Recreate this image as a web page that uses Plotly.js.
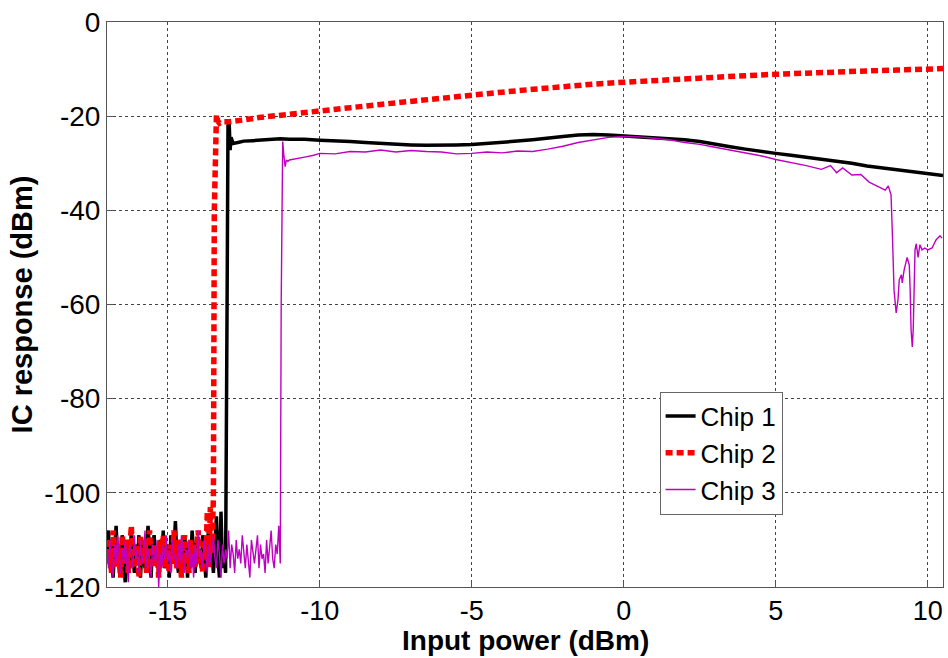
<!DOCTYPE html>
<html>
<head>
<meta charset="utf-8">
<script src="https://cdn.plot.ly/plotly-3.0.1.min.js"></script>
<style>html,body{margin:0;padding:0;background:#fff;}#chart{width:948px;height:658px;}</style>
</head>
<body>
<div id="chart"></div>
<script>
// ---- Data ----
var seriesNames = ["Chip 1", "Chip 2", "Chip 3"];
var xAxisTitle = "Input power (dBm)";
var yAxisTitle = "IC response (dBm)";

// Noise floor samples (dBm), evenly spaced from the x start with the given step
var chip1NoiseStart = -17.0, chip1NoiseStep = 0.05;
var chip1Noise = [-112,-108,-116,-110,-118,-113,-107,-115,-111,-117,-109,-114,-119,-110,-112,-116,-108,-113,-117,-111,-115,-109,-118,-112,-110,-116,-113,-107,-114,-118,-111,-109,-115,-112,-117,-110,-114,-108,-116,-113,-111,-118,-109,-115,-112,-106,-114,-117,-110,-113,-116,-109,-112,-118,-111,-115,-108,-113,-117,-110,-114,-112,-116,-109,-113,-118,-111,-107,-115,-112,-117,-110,-105,-114,-118,-104,-116,-112,-117];
var chip2NoiseStart = -17.0, chip2NoiseStep = 0.05;
var chip2Noise = [-110,-115,-112,-117,-108,-113,-116,-111,-114,-118,-109,-113,-115,-110,-117,-112,-107,-114,-116,-111,-113,-118,-109,-115,-112,-110,-117,-113,-108,-114,-116,-111,-115,-112,-118,-110,-113,-109,-116,-112,-114,-117,-111,-115,-108,-113,-116,-110,-114,-118,-112,-109,-115,-113,-117,-110,-114,-111,-116,-112,-108,-115,-113,-117,-110,-114,-104,-116,-103,-113,-101];
var chip3NoiseStart = -17.0, chip3NoiseStep = 0.05;
var chip3Noise = [-112,-116,-110,-114,-118,-111,-115,-109,-113,-117,-112,-115,-110,-114,-119,-111,-113,-116,-109,-114,-112,-117,-110,-115,-113,-108,-116,-112,-114,-118,-111,-113,-115,-110,-120,-113,-116,-111,-114,-109,-115,-112,-117,-110,-114,-113,-116,-111,-115,-109,-113,-117,-112,-114,-110,-116,-113,-118,-111,-115,-108,-114,-112,-116,-110,-113,-117,-111,-115,-112,-109,-114,-116,-110,-113,-118,-111,-115,-112,-114,-108,-116,-111,-113,-117,-110,-114,-112,-115,-109,-113,-116,-111,-114,-118,-110,-113,-115,-112,-109,-116,-111,-114,-113,-117,-110,-115,-112,-108,-114,-116,-111,-113,-107,-115];

// Main responses above threshold
var chip1X = [-13.05,-13.02,-12.98,-12.95,-12.92,-12.85,-12.7,-12.5,-12.2,-12.0,-11.6,-11.3,-11.0,-10.5,-10.0,-9.5,-9.0,-8.5,-8.0,-7.5,-7.0,-6.5,-6.0,-5.5,-5.0,-4.5,-4.0,-3.5,-3.0,-2.5,-2.0,-1.5,-1.0,-0.5,0.0,0.5,1.0,1.5,2.0,2.5,3.0,3.5,4.0,4.5,5.0,5.5,6.0,6.5,7.0,7.5,8.0,8.5,9.0,9.5,10.0,10.5];
var chip1Y = [-60,-22.0,-21.6,-27.2,-24.5,-25.8,-25.6,-25.3,-25.2,-25.1,-24.9,-24.8,-24.9,-24.9,-25.1,-25.2,-25.4,-25.6,-25.8,-25.9,-26.1,-26.2,-26.2,-26.1,-26.0,-25.8,-25.6,-25.3,-25.0,-24.6,-24.3,-24.0,-23.9,-24.0,-24.2,-24.3,-24.5,-24.7,-25.0,-25.4,-26.0,-26.5,-27.0,-27.5,-27.9,-28.3,-28.7,-29.1,-29.5,-30.0,-30.6,-31.0,-31.5,-31.9,-32.3,-32.6];

var chip2X = [-13.47,-13.44,-13.4,-13.36,-13.3,-13.2,-13.1,-13.0,-12.5,-12.0,-11.0,-10.0,-9.0,-8.0,-7.0,-6.0,-5.0,-4.0,-3.0,-2.0,-1.0,0.0,1.0,2.0,3.0,4.0,5.0,6.0,7.0,8.0,9.0,10.0,10.5];
var chip2Y = [-40,-20.5,-19.7,-21.0,-21.5,-21.2,-21.3,-21.2,-20.8,-20.3,-19.6,-18.8,-18.2,-17.5,-16.8,-16.1,-15.5,-14.9,-14.3,-13.7,-13.2,-12.8,-12.4,-12.0,-11.7,-11.4,-11.1,-10.8,-10.6,-10.4,-10.2,-10.0,-9.9];

var chip3X = [-11.27,-11.22,-11.18,-11.14,-11.1,-11.05,-11.0,-10.8,-10.5,-10.2,-10.0,-9.5,-9.0,-8.5,-8.0,-7.5,-7.0,-6.5,-6.0,-5.5,-5.0,-4.5,-4.0,-3.5,-3.0,-2.5,-2.0,-1.5,-1.0,-0.5,0.0,0.5,1.0,1.5,2.0,2.5,3.0,3.5,4.0,4.5,5.0,5.5,6.0,6.5,6.8,7.0,7.2,7.5,7.8,8.07,8.4,8.6,8.7,8.79,8.83,8.89,8.96,9.02,9.06,9.1,9.13,9.16,9.22,9.32,9.39,9.42,9.45,9.49,9.52,9.55,9.58,9.62,9.68,9.74,9.81,9.9,10.0,10.14,10.27,10.4,10.47];
var chip3Y = [-60,-25.4,-28.5,-30.7,-29.3,-29.6,-29.3,-29.0,-28.7,-28.3,-27.9,-28.0,-27.5,-27.6,-27.2,-27.6,-27.3,-27.5,-27.6,-28.0,-27.9,-27.6,-27.8,-27.4,-27.5,-27.0,-26.4,-25.6,-25.0,-24.5,-24.3,-24.4,-24.7,-25.0,-25.6,-26.0,-26.6,-27.2,-27.8,-28.4,-29.2,-29.8,-30.5,-31.3,-30.5,-32.0,-31.0,-32.5,-32.4,-34.0,-35.1,-35.7,-34.8,-36.7,-44,-57,-61.8,-59,-54.8,-54.3,-53.7,-55.4,-52.7,-50,-51.6,-57,-65.4,-69,-65.4,-57,-48.4,-47.1,-50,-47.3,-48.4,-48,-48.4,-48,-46.3,-45.4,-45.9];

var xTickVals = [-15,-10,-5,0,5,10];
var xTickText = ["-15","-10","-5","0","5","10"];
var yTickVals = [0,-20,-40,-60,-80,-100,-120];
var yTickText = ["0","-20","-40","-60","-80","-100","-120"];

// ---- Build traces ----
function build(start, step, noise, mx, my) {
  var x = [], y = [];
  for (var i = 0; i < noise.length; i++) { x.push(start + i * step); y.push(noise[i]); }
  return { x: x.concat(mx), y: y.concat(my) };
}
var c1 = build(chip1NoiseStart, chip1NoiseStep, chip1Noise, chip1X, chip1Y);
var c2 = build(chip2NoiseStart, chip2NoiseStep, chip2Noise, chip2X, chip2Y);
var c3 = build(chip3NoiseStart, chip3NoiseStep, chip3Noise, chip3X, chip3Y);

var traces = [
  { x: c1.x, y: c1.y, name: seriesNames[0], mode: "lines", type: "scatter",
    line: { color: "#000000", width: 3.5 } },
  { x: c2.x, y: c2.y, name: seriesNames[1], mode: "lines", type: "scatter",
    line: { color: "#ff0000", width: 5.5, dash: "7px,4px" } },
  { x: c3.x, y: c3.y, name: seriesNames[2], mode: "lines", type: "scatter",
    line: { color: "#c000c0", width: 1.4 } }
];

var fontFam = "Liberation Sans, Arial, sans-serif";
var layout = {
  width: 948, height: 658,
  margin: { l: 107, r: 5, t: 22, b: 71 },
  paper_bgcolor: "#ffffff", plot_bgcolor: "#ffffff",
  font: { family: fontFam, size: 28, color: "#000" },
  showlegend: true,
  legend: {
    x: 0.661, y: 0.346, xanchor: "left", yanchor: "top",
    bgcolor: "#ffffff", bordercolor: "#666", borderwidth: 1,
    font: { family: fontFam, size: 26, color: "#000" },
    tracegroupgap: 0, itemwidth: 30
  },
  xaxis: {
    range: [-17, 10.5], tickvals: xTickVals, ticktext: xTickText,
    showline: true, mirror: true, linecolor: "#555", linewidth: 1,
    ticks: "inside", ticklen: 6, tickcolor: "#555",
    showgrid: true, gridcolor: "#444", griddash: "dot", gridwidth: 1,
    zeroline: false,
    tickfont: { family: fontFam, size: 27 }
  },
  yaxis: {
    range: [-120, 0], tickvals: yTickVals, ticktext: yTickText,
    showline: true, mirror: true, linecolor: "#555", linewidth: 1,
    ticks: "inside", ticklen: 6, tickcolor: "#555",
    showgrid: true, gridcolor: "#444", griddash: "dot", gridwidth: 1,
    zeroline: false,
    tickfont: { family: fontFam, size: 28 },
    title: { text: "<b>" + yAxisTitle + "</b>", font: { family: fontFam, size: 29 }, standoff: 3 }
  },
  annotations: [
    { text: "<b>" + xAxisTitle + "</b>", xref: "paper", yref: "paper", x: 0.5, y: -0.095,
      xanchor: "center", yanchor: "middle", showarrow: false,
      font: { family: fontFam, size: 28, color: "#000" } }
  ]
};

Plotly.newPlot("chart", traces, layout, { displayModeBar: false, staticPlot: true });
</script>
</body>
</html>
